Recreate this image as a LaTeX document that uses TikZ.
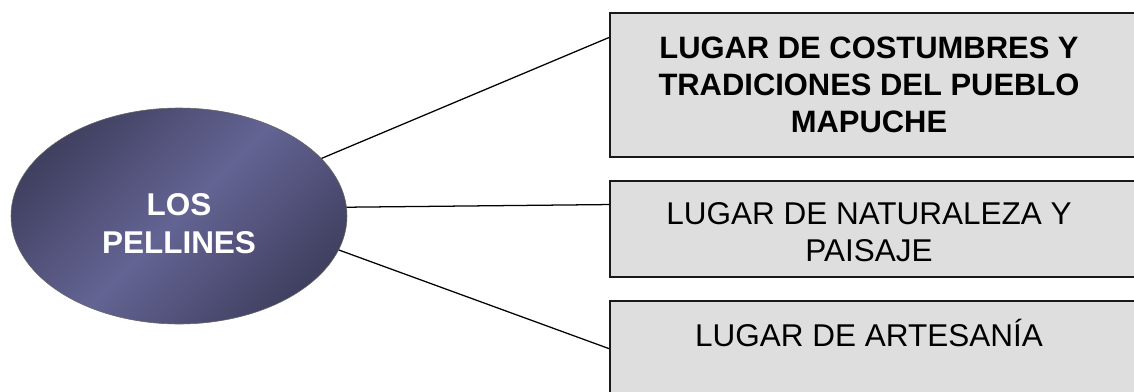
\documentclass[tikz,border=0pt]{standalone}
\usepackage{fontspec}
\setmainfont{Liberation Sans}
\usetikzlibrary{calc, shapes.geometric}
\definecolor{pellindark}{RGB}{64,64,97}
\definecolor{pellinlight}{RGB}{100,100,148}
\definecolor{boxgray}{RGB}{222,222,222}
% text of a box: dropped a little, kept left of the box centre
\newcommand{\lugartext}[2]{\raisebox{-#1}[\height][\depth]{\begin{tabular}{@{}c@{}}#2\end{tabular}}\hspace*{1.05cm}}

\begin{document}
\begin{tikzpicture}[every node/.style={font=\fontsize{22.4}{26.3}\selectfont},
  lugarbox/.style={draw=black!90, line width=1.3pt, fill=boxgray, rectangle, minimum width=14cm, inner sep=0pt}]
\useasboundingbox (0,0) rectangle (28.35,9.775);
\clip (0,0) rectangle (28.35,9.775);

% Central ellipse
\node[ellipse, draw=black!60, line width=0.4pt, top color=pellindark, bottom color=pellindark, middle color=pellinlight, shading angle=45, minimum width=8.4cm, minimum height=5.4cm, inner sep=0pt, text=white, font=\fontsize{22.4}{27}\selectfont\bfseries] (pel) at (4.475,4.375) {\raisebox{-0.28cm}[\height][\depth]{\begin{tabular}{@{}c@{}}LOS\\PELLINES\end{tabular}}};

% Boxes on the right
\node[lugarbox, minimum height=3.6cm, font=\fontsize{22}{26.3}\selectfont\bfseries] (costumbres) at (22.25,7.65) {\lugartext{0.075cm}{LUGAR DE COSTUMBRES Y\\TRADICIONES DEL PUEBLO\\MAPUCHE}};
\node[lugarbox, minimum height=2.4cm] (naturaleza) at (22.25,4.05) {\lugartext{0.17cm}{LUGAR DE NATURALEZA Y\\PAISAJE}};
\node[lugarbox, minimum height=3.6cm] (artesania) at (22.25,0.45) {\lugartext{0.05cm}{LUGAR DE ARTESANÍA\\~\\~}};

\draw[line width=0.9pt] (pel.22.4) -- ($(costumbres.north west)!0.174!(costumbres.south west)$);
\draw[line width=0.9pt] (pel.3.7) -- ($(naturaleza.north west)!0.25!(naturaleza.south west)$);
\draw[line width=0.9pt] (pel.-12.5) -- ($(artesania.north west)!0.333!(artesania.south west)$);
\end{tikzpicture}
\end{document}
